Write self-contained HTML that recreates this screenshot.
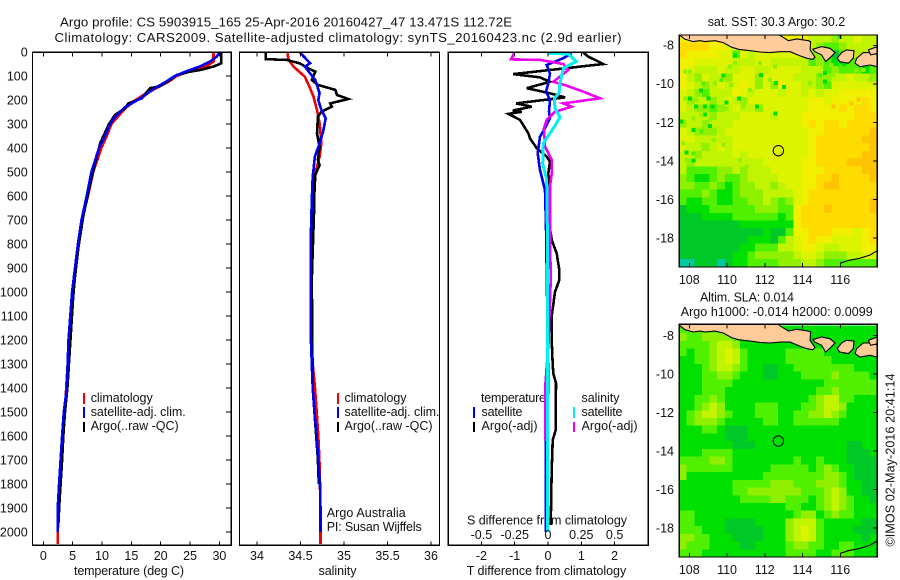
<!DOCTYPE html>
<html>
<head>
<meta charset="utf-8">
<title>Argo profile</title>
<style>
html,body{margin:0;padding:0;background:#fff;}
svg{display:block;}
text{font-family:"Liberation Sans",sans-serif;font-size:12.5px;fill:#111;}
.big{font-size:13.2px;}
</style>
</head>
<body>
<svg id="chart" xmlns="http://www.w3.org/2000/svg" width="900" height="580" viewBox="0 0 900 580">
<rect width="900" height="580" fill="#fff"/>
<text class="big" x="60" y="26.5" textLength="452" lengthAdjust="spacing">Argo profile: CS 5903915_165 25-Apr-2016 20160427_47 13.471S 112.72E</text>
<text class="big" x="54.5" y="42" textLength="567" lengthAdjust="spacing">Climatology: CARS2009. Satellite-adjusted climatology: synTS_20160423.nc (2.9d earlier)</text>
<text x="74" y="575" textLength="110" lengthAdjust="spacing">temperature (deg C)</text>
<text x="318.5" y="575" textLength="38" lengthAdjust="spacing">salinity</text>
<text x="466.7" y="575" textLength="159.5" lengthAdjust="spacing">T difference from climatology</text>
<text x="467" y="524.5" textLength="160" lengthAdjust="spacing">S difference from climatology</text>
<text x="326.7" y="517" textLength="79" lengthAdjust="spacing">Argo Australia</text>
<text x="326.7" y="531" textLength="95" lengthAdjust="spacing">PI: Susan Wijffels</text>
<text x="90.7" y="402" textLength="62" lengthAdjust="spacing">climatology</text>
<text x="90.7" y="416" textLength="95" lengthAdjust="spacing">satellite-adj. clim.</text>
<text x="90.7" y="430" textLength="88" lengthAdjust="spacing">Argo(..raw -QC)</text>
<text x="344.5" y="402" textLength="62" lengthAdjust="spacing">climatology</text>
<text x="344.5" y="416" textLength="95" lengthAdjust="spacing">satellite-adj. clim.</text>
<text x="344.5" y="430" textLength="88" lengthAdjust="spacing">Argo(..raw -QC)</text>
<text x="481" y="402" textLength="65" lengthAdjust="spacing">temperature</text>
<text x="481.5" y="416" textLength="41" lengthAdjust="spacing">satellite</text>
<text x="481.5" y="430" textLength="56" lengthAdjust="spacing">Argo(-adj)</text>
<text x="581.5" y="402" textLength="38" lengthAdjust="spacing">salinity</text>
<text x="581.5" y="416" textLength="41" lengthAdjust="spacing">satellite</text>
<text x="581.5" y="430" textLength="56" lengthAdjust="spacing">Argo(-adj)</text>
<text x="707.7" y="26" textLength="137.5" lengthAdjust="spacing">sat. SST: 30.3 Argo: 30.2</text>
<text x="700" y="301.5" textLength="94" lengthAdjust="spacing">Altim. SLA: 0.014</text>
<text x="680.7" y="316" textLength="192" lengthAdjust="spacing">Argo h1000: -0.014 h2000: 0.0099</text>
<text transform="translate(894.5,546.5) rotate(-90)" x="0" y="0" textLength="173" lengthAdjust="spacing">©IMOS 02-May-2016 20:41:14</text>
<g id="profiles"></g>
<g id="maps"></g>
</svg>
<script>
// ---- profile data (depth in m, values in native units) ----
const depthTicks = [0,100,200,300,400,500,600,700,800,900,1000,1100,1200,1300,1400,1500,1600,1700,1800,1900,2000];
const tempTicks = [0,5,10,15,20,25,30];
const salTicks = [34,34.5,35,35.5,36];
const salTickLabels = ["34","34.5","35","35.5","36"];
const diffTTicks = [-2,-1,0,1,2];
const diffSTicks = [-0.5,-0.25,0,0.25,0.5];
const diffSTickLabels = ["-0.5","-0.25","0","0.25","0.5"];
const lonTicks = [108,110,112,114,116];
const latTicks = [-8,-10,-12,-14,-16,-18];

const climTempDepth = [0,40,60,80,100,120,150,180,210,250,300,350,400,500,600,700,800,1000,1200,1400,1600,1800,2000,2050];
const climTempValue = [29,29,27.8,25,22.7,21.6,19.3,17,15.1,13.4,11.6,10.8,9.9,8.5,7.6,6.6,6,5,4.4,3.9,3.4,2.9,2.45,2.45];
const satTempDepth = [0,20,40,60,80,100,130,150,190,230,270,300,350,400,500,600,700,800,900,1000,1200,1400,1500,1600,1700,1800,1900,2000];
const satTempValue = [30.1,29.5,28.4,26.7,24.4,22.4,20.5,19,16.8,13.9,12.2,11.4,10.5,9.5,8.2,7.4,6.5,5.9,5.4,4.9,4.3,4,3.5,3.2,2.95,2.7,2.45,2.45];
const argoTempDepth = [0,47,61,75,82,96,117,142,151,193,214,235,262,304,380,464,547,686,811,936,1019,1400,1500,1600,1700,1800,1900,1960];
const argoTempValue = [30.3,30.3,29,26.7,25,22.7,21.6,19.9,18.2,16.8,14.5,13.9,12.2,11.1,9.7,8.8,8,6.8,6,5.4,5.1,4.1,3.7,3.4,3.2,2.95,2.7,2.6];

const climSalDepth = [0,30,61,103,151,186,242,297,380,436,505,590,700,1000,1100,1300,1400,1500,1600,1700,1800,2000,2050];
const climSalValue = [34.35,34.36,34.42,34.55,34.61,34.65,34.69,34.72,34.74,34.72,34.67,34.64,34.63,34.625,34.62,34.64,34.667,34.686,34.705,34.717,34.724,34.73,34.73];
const satSalDepth = [0,47,61,117,172,200,242,276,332,380,436,520,617,756,1005,1200,1400,1500,1600,1700,1800,1900,2000];
const satSalValue = [34.49,34.61,34.55,34.67,34.72,34.705,34.74,34.79,34.76,34.72,34.665,34.64,34.63,34.62,34.617,34.62,34.64,34.66,34.686,34.705,34.724,34.73,34.73];
const argoSalDepth = [0,30,33,47,68,82,117,137,158,179,196,214,228,249,269,339,394,450,471,512,617,672,894,950,1400,1500,1600,1700,1800];
const argoSalValue = [34.1,34.1,34.34,34.49,34.59,34.67,34.63,34.7,34.9,34.92,35.05,34.84,34.86,34.74,34.7,34.69,34.72,34.7,34.72,34.67,34.655,34.655,34.635,34.63,34.64,34.66,34.68,34.7,34.71];

const diffTSatDepth = [6,26,40,54,89,131,165,200,249,276,318,353,422,492,575,728,1000,1400,1500,1620,2000];
const diffTSatValue = [0.71,0.46,0.21,-0.04,0.06,0.01,-0.06,0.06,0.03,0.06,-0.09,-0.24,-0.31,-0.24,-0.09,-0.06,-0.03,0.01,-0.03,-0.07,-0.07];
const diffTArgoDepth = [3,19,50,64,92,106,124,151,172,189,214,228,244,249,258,283,339,360,401,436,457,506,561,714,783,839,908,950,1000,1100,1200,1300,1339,1380,1575,1617,1742,1971];
const diffTArgoValue = [1.06,1.21,1.66,0.76,-1.04,-0.24,0.06,-0.64,0.06,0.51,-0.96,-0.49,-1.06,-0.79,-1.19,-0.84,-0.59,-0.54,-0.34,-0.04,0.06,0.01,0.04,0.04,0.11,0.26,0.34,0.34,0.21,0.11,0.11,0.14,0.16,0.24,0.23,0.14,0.11,0.08];
const diffSSatDepth = [6,8,40,68,131,172,193,235,272,318,381,464,533,728,950,2000];
const diffSSatValue = [0,0.1525,0.21,0.115,0.09,0.0825,0.0475,0.0525,0.09,0.04,-0.035,-0.04,-0.01,-0.005,-0.0025,-0.005];
const diffSArgoDepth = [6,31,33,50,75,124,138,165,193,214,228,249,283,318,394,450,506,561,728,950,1200,1390,1620];
const diffSArgoValue = [-0.255,-0.2775,-0.06,0.115,0.1525,0.04,0.1275,0.265,0.39,0.115,0.1775,0.0525,-0.01,-0.03,-0.0225,0.0275,0.0275,0.015,0.015,0.02,0.005,-0.02,-0.02];

// ---- map data: colour-level per cell ----
const mapLevelColors = ["#00c8a0","#00c828","#00e000","#50f000","#90f000","#c0f400","#dcf400","#f0f000","#ffdc00","#ffc400"];
const sstLevels = [
[7,7,7,7,7,7,7,7,7,7,7,7,7,7,7,7,7,5,5,5,4,5,5,6,5,5],
[8,8,8,8,7,7,6,6,5,5,5,5,5,5,5,5,5,5,4,3,3,4,5,5,5,5],
[8,7,7,7,7,6,6,3,6,5,6,6,6,6,6,6,5,4,4,3,1,3,4,5,5,5],
[7,7,6,6,6,6,6,5,5,5,6,6,5,5,5,5,5,3,4,3,2,2,3,3,3,4],
[7,6,5,5,5,6,5,5,6,6,5,5,6,6,6,6,5,5,5,3,4,3,3,3,2,3],
[7,5,4,6,5,5,4,6,6,6,4,6,6,6,6,5,5,5,4,4,5,5,6,5,5,4],
[7,6,5,4,5,6,5,6,7,6,4,6,4,7,6,6,5,5,4,3,6,6,6,6,6,6],
[6,5,4,3,5,5,5,7,6,5,6,6,6,5,6,6,5,6,5,6,6,7,7,7,7,7],
[6,4,5,5,4,5,6,5,4,6,6,6,6,6,6,6,6,7,7,6,7,7,7,7,8,7],
[6,5,4,4,3,4,5,6,5,5,4,6,6,6,6,6,6,7,7,7,7,8,7,8,8,7],
[5,5,5,5,4,5,5,5,6,6,6,6,5,6,6,6,7,7,7,7,7,7,7,8,8,8],
[4,5,5,4,5,5,5,6,6,6,6,6,6,6,6,6,7,8,7,8,8,7,8,8,8,8],
[6,5,4,4,4,5,6,6,6,6,6,6,6,6,6,6,6,7,7,8,8,8,8,8,8,9],
[6,6,5,5,5,5,5,6,6,6,6,6,6,6,6,6,6,7,8,8,8,8,8,8,9,9],
[6,5,5,4,5,6,5,6,6,6,6,6,6,6,6,6,6,7,8,8,8,8,8,8,8,9],
[5,5,4,5,5,5,5,6,5,6,6,6,6,6,6,6,6,7,8,8,8,8,8,8,9,9],
[5,4,5,5,5,5,5,5,5,5,5,6,6,6,6,6,7,7,8,8,8,8,9,9,9,9],
[5,3,3,3,3,4,4,5,4,5,5,5,6,6,6,6,7,7,7,8,8,8,8,8,9,9],
[4,3,2,2,3,4,3,3,4,5,5,5,5,6,6,6,7,7,8,8,9,8,8,8,8,9],
[4,4,3,3,4,3,2,3,4,4,5,5,4,5,6,6,7,7,8,9,9,8,8,8,8,8],
[3,3,3,4,3,2,2,3,4,4,4,5,5,5,5,6,7,8,8,8,8,8,8,8,8,8],
[3,2,2,3,3,2,2,3,3,4,4,5,4,3,4,6,7,8,8,8,8,8,8,8,8,9],
[1,2,2,2,3,3,3,3,3,3,4,4,4,3,3,7,8,8,8,9,8,8,8,8,8,9],
[1,1,1,2,2,2,2,3,3,3,3,3,3,2,3,7,8,8,8,8,8,8,8,8,8,8],
[1,1,1,1,1,1,1,1,2,2,2,2,2,2,2,7,8,8,8,8,8,8,8,8,8,8],
[1,1,1,1,1,1,1,1,1,1,1,2,1,1,3,7,7,8,8,8,7,7,7,6,7,8],
[1,1,1,1,1,1,1,1,1,2,2,2,1,3,5,6,7,8,7,7,6,6,6,6,7,8],
[1,1,1,1,1,1,1,1,2,2,3,3,3,5,5,6,7,7,6,5,5,6,6,6,7,7],
[1,1,1,1,1,1,1,2,2,3,4,4,4,4,4,5,6,6,5,4,4,4,5,5,6,6],
[0,0,1,1,1,0,1,2,2,3,3,3,3,4,4,4,5,5,4,3,3,3,3,3,3,3]
];
const slaLevels = [
[3,3,3,3,3,3,3,2,2,2,2,2,2,2,2,2,2,2,2,2,2,2,2,2,2,2],
[4,3,3,4,4,4,4,3,2,2,2,2,2,2,2,2,2,2,2,2,2,2,2,2,2,2],
[3,3,3,3,4,5,5,4,2,2,2,2,2,2,2,2,2,2,2,2,2,2,2,2,2,2],
[3,2,3,3,4,5,6,5,3,2,2,2,2,2,3,3,3,3,3,2,2,2,2,2,2,2],
[2,2,3,3,4,5,6,5,3,2,2,2,2,2,3,3,3,3,3,3,2,2,2,2,2,2],
[2,2,2,3,4,5,5,4,3,2,2,1,1,2,2,3,3,3,3,3,3,3,3,2,2,2],
[2,2,2,3,3,4,4,3,2,2,2,1,1,2,2,2,3,3,3,3,4,3,3,3,3,2],
[2,2,2,3,3,3,3,2,2,2,2,2,2,2,2,2,2,2,2,3,3,3,3,3,3,3],
[2,2,2,3,3,3,2,2,2,2,2,2,2,2,2,2,2,2,3,3,4,3,3,3,3,3],
[2,2,3,3,4,3,2,2,2,2,2,2,2,2,2,2,2,3,4,5,5,3,3,2,2,2],
[2,2,3,4,5,4,2,2,2,2,3,3,3,2,2,2,3,3,4,5,5,4,2,2,2,2],
[2,3,4,5,5,4,3,2,2,2,3,3,3,2,2,3,3,4,4,5,4,3,2,2,2,2],
[2,3,4,4,4,3,2,2,2,2,2,3,3,2,2,3,3,3,3,3,3,2,2,2,2,2],
[2,2,2,3,3,2,1,1,1,2,2,2,2,2,2,2,2,2,2,2,2,2,2,2,2,2],
[2,2,2,2,2,2,1,1,1,2,2,2,2,2,2,2,2,2,2,2,2,2,2,2,2,2],
[2,2,2,2,2,2,2,1,1,1,2,2,2,2,2,2,2,2,2,2,2,2,1,1,2,2],
[2,2,2,3,3,3,3,2,2,2,2,2,2,2,2,2,2,2,2,2,2,2,1,1,1,2],
[3,3,3,3,4,4,3,2,2,2,2,2,2,2,2,3,2,2,3,2,2,2,1,1,1,1],
[4,3,3,3,3,3,3,2,2,2,2,2,3,3,3,3,3,2,3,4,3,2,2,1,1,1],
[4,2,2,2,2,2,2,2,2,2,2,3,3,3,3,3,3,3,3,4,4,3,2,1,1,1],
[2,2,2,2,2,2,2,3,3,3,3,3,4,4,4,3,3,3,4,4,4,3,2,2,1,1],
[2,2,2,2,2,2,2,3,3,4,4,4,4,4,4,4,3,3,3,4,5,4,2,2,1,1],
[2,2,2,2,2,2,2,2,3,3,3,3,4,4,3,3,3,2,3,4,5,4,3,2,2,1],
[2,2,2,2,2,2,2,2,2,2,2,2,2,2,3,3,2,2,3,4,5,4,3,2,2,2],
[3,3,2,2,2,2,2,2,2,2,2,2,2,2,2,3,4,4,2,3,4,3,3,2,2,2],
[3,3,2,2,2,2,1,1,1,1,2,2,2,2,4,5,5,5,3,2,2,2,2,2,1,1],
[3,3,3,2,2,2,1,1,1,1,1,2,2,2,4,5,6,5,3,2,2,2,2,1,1,1],
[4,4,3,3,2,2,2,1,1,1,1,2,2,2,4,5,6,5,3,2,2,2,2,2,1,2],
[4,3,3,3,2,2,2,2,1,1,2,2,2,2,3,4,4,3,3,2,2,3,3,2,2,2],
[3,3,3,2,2,2,2,2,2,2,2,2,2,2,3,3,3,3,2,2,3,3,3,2,2,2]
];
const speckLon = [108.62,108.04,109.01,108.83,109.22,108.35,109.98,110.63,111.6,112.58,113.02,112.59,111.8,109.8,110.42,108.83,109.1,108.21,107.59,107.86,108.21,115.19,115.19,115.99,
107.77,108.04,108.48,108.74,109.36,109.71,111.75,112.28,114.4,114.93,115.63,115.19,115.54,115.99,116.87,117.22,117.58,111.22,110.24,107.77,108.39,108.65,109.1,109.98,110.86,112.54,111.75,110.42,110.16,108.21,108.65,107.68,108.74,109.27,109.8,108.21,107.86,110.69,111.04,
116.6,116.96,115.63];
const speckLat = [-10.35,-10.77,-10.77,-11.18,-11.18,-11.18,-10.98,-10.77,-11.18,-11.53,-10.16,-9.96,-9.54,-9.56,-8.54,-11.58,-12.19,-12.39,-11.96,-13.57,-13.99,-9.45,-9.89,-7.55,
-9.37,-9.37,-9.8,-9.97,-9.97,-9.8,-9.89,-9.8,-9.97,-9.54,-9.54,-9.19,-9.02,-9.11,-9.31,-9.28,-9.8,-10.32,-10.06,-10.75,-10.84,-11.62,-11.88,-11.27,-11.18,-9.11,-8.93,-8.93,-9.11,-11.79,-12.48,-13.09,-13.17,-12.91,-13.17,-13.61,-13.95,-13.95,-14.3,
-11.01,-10.8,-11.18];
const speckLevel = [2,2,2,2,2,2,2,2,2,2,2,2,2,2,2,2,2,2,2,2,2,2,2,2,
4,4,4,3,4,3,4,4,4,3,4,3,4,3,4,4,4,4,4,4,4,4,4,4,4,4,4,4,4,4,3,4,4,4,4,3,4,4,4,
9,9,9];
const floatLon = [112.72];
const floatLat = [-13.471];

const javaLon = [107.4,107.47,107.77,108.21,108.57,108.83,109.36,109.8,110.24,110.6,111.22,111.75,112.28,112.81,113.34,113.87,114.22,114.54,114.66,114.4,114.43,114.31,113.69,113.25,112.77,112.77];
const javaLat = [-7.3,-7.46,-7.69,-7.81,-7.76,-7.81,-7.76,-7.86,-8.1,-8.21,-8.28,-8.35,-8.38,-8.33,-8.33,-8.55,-8.67,-8.73,-8.62,-8.24,-7.81,-7.76,-7.67,-7.76,-7.46,-7.3];
const baliLon = [114.54,115.01,115.46,115.72,115.49,115.23,115.01,114.66];
const baliLat = [-8.21,-8.07,-8.16,-8.38,-8.62,-8.85,-8.5,-8.33];
const lombokLon = [116.07,116.33,116.73,116.69,116.43,115.98,115.84];
const lombokLat = [-8.38,-8.24,-8.28,-8.67,-8.93,-8.85,-8.67];
const sumbawaLon = [116.87,117.22,117.75,117.96,117.96,117.58,117.05,116.78];
const sumbawaLat = [-8.67,-8.38,-8.38,-8.5,-9.11,-9.02,-9.11,-8.93];
const moyoLon = [117.49,117.96,117.96,117.61];
const moyoLat = [-8.24,-8.07,-8.42,-8.5];
const ausCoastLon = [115.99,116.43,117.05,117.58,117.96];
const ausCoastLat = [-19.31,-19.17,-19.05,-18.88,-18.66];

// ---- drawing helpers ----
const NS = "http://www.w3.org/2000/svg";
const profilesG = document.getElementById("profiles");
const mapsG = document.getElementById("maps");
function make(parent, tag, name, attrs) {
  const el = document.createElementNS(NS, tag);
  for (const k in attrs) el.setAttribute(k, attrs[k]);
  
  
  parent.appendChild(el);
  return el;
}
function label(parent, name, str, x, y, anchor) {
  const el = make(parent, "text", name, {x: x, y: y, "text-anchor": anchor});
  el.textContent = str;
  return el;
}

// ---- profile panels ----
const plotTop = 52.3, plotBottom = 545.3;
const yDepth = d => 52 + 0.24 * d;
const xTemp = t => 43.3 + 5.87 * t;
const xSal = s => 257 + 87 * (s - 34);
const xDiffT = t => 548 + 33.3 * t;
const xDiffS = s => 548 + 133.2 * s;

function line(parent, name, depth, value, xf, color, width) {
  const pts = depth.map((d, i) => xf(value[i]).toFixed(1) + "," + yDepth(d).toFixed(1)).join(" ");
  make(parent, "polyline", name, {points: pts, fill: "none", stroke: color, "stroke-width": width, "stroke-linejoin": "miter", "shape-rendering": "crispEdges"});
}
function frame(parent, name, x0, x1, y0, y1) {
  make(parent, "rect", name, {x: x0, y: y0, width: x1 - x0, height: y1 - y0, fill: "none", stroke: "#000", "stroke-width": 1.2, "shape-rendering": "crispEdges"});
}
function xTicks(parent, name, ticks, xf, y0, y1) {
  ticks.forEach(t => {
    const x = xf(t);
    make(parent, "line", name, {x1: x, x2: x, y1: y0, y2: y0 + 4, stroke: "#000", "stroke-width": 1, "shape-rendering": "crispEdges"});
    make(parent, "line", name, {x1: x, x2: x, y1: y1 - 4, y2: y1, stroke: "#000", "stroke-width": 1, "shape-rendering": "crispEdges"});
  });
}
function legendBar(parent, name, x, y0, y1, color) {
  make(parent, "line", name, {x1: x, x2: x, y1: y0, y2: y1, stroke: color, "stroke-width": 2.4, "shape-rendering": "crispEdges"});
}

// panel 1: temperature
const p1 = make(profilesG, "g", "temperature-panel", {});
line(p1, "climatology-temperature-line", climTempDepth, climTempValue, xTemp, "#f00000", 2.6);
line(p1, "argo-temperature-line", argoTempDepth, argoTempValue, xTemp, "#000", 2.6);
line(p1, "satellite-temperature-line", satTempDepth, satTempValue, xTemp, "#0000f0", 2.6);
frame(p1, "temperature-panel-frame", 32.5, 231.3, plotTop, plotBottom);
xTicks(p1, "temperature-tick", tempTicks, xTemp, plotTop, plotBottom);
tempTicks.forEach(t => label(p1, "temperature-tick-label", String(t), xTemp(t), 560, "middle"));
depthTicks.forEach(d => {
  make(p1, "line", "depth-tick", {x1: 226, x2: 231.3, y1: yDepth(d), y2: yDepth(d), stroke: "#000", "stroke-width": 1, "shape-rendering": "crispEdges"});
  label(p1, "depth-tick-label", String(d), 27.7, yDepth(d) + 4.4, "end");
});
legendBar(p1, "legend-swatch-climatology", 84, 393, 404, "#f00000");
legendBar(p1, "legend-swatch-satellite-adj", 84, 407, 418, "#0000f0");
legendBar(p1, "legend-swatch-argo", 84, 422, 432, "#000");

// panel 2: salinity
const p2 = make(profilesG, "g", "salinity-panel", {});
line(p2, "climatology-salinity-line", climSalDepth, climSalValue, xSal, "#f00000", 2.6);
line(p2, "argo-salinity-line", argoSalDepth, argoSalValue, xSal, "#000", 2.6);
line(p2, "satellite-salinity-line", satSalDepth, satSalValue, xSal, "#0000f0", 2.6);
frame(p2, "salinity-panel-frame", 239.5, 439.5, plotTop, plotBottom);
xTicks(p2, "salinity-tick", salTicks, xSal, plotTop, plotBottom);
salTicks.forEach((t, i) => label(p2, "salinity-tick-label", salTickLabels[i], xSal(t), 560, "middle"));
legendBar(p2, "legend-swatch-climatology-salinity", 338, 393, 404, "#f00000");
legendBar(p2, "legend-swatch-satellite-adj-salinity", 338, 407, 418, "#0000f0");
legendBar(p2, "legend-swatch-argo-salinity", 338, 422, 432, "#000");

// panel 3: differences
const p3 = make(profilesG, "g", "difference-panel", {});
line(p3, "t-argo-difference-line", diffTArgoDepth, diffTArgoValue, xDiffT, "#000", 2.6);
line(p3, "t-satellite-difference-line", diffTSatDepth, diffTSatValue, xDiffT, "#0000f0", 2.6);
line(p3, "s-argo-difference-line", diffSArgoDepth, diffSArgoValue, xDiffS, "#f000f0", 2.6);
line(p3, "s-satellite-difference-line", diffSSatDepth, diffSSatValue, xDiffS, "#00f0f0", 3);
frame(p3, "difference-panel-frame", 448.3, 648.3, plotTop, plotBottom);
xTicks(p3, "t-difference-tick", diffTTicks, xDiffT, plotTop, plotBottom);
diffTTicks.forEach(t => label(p3, "t-difference-tick-label", String(t), xDiffT(t), 560, "middle"));
diffSTicks.forEach((t, i) => label(p3, "s-difference-tick-label", diffSTickLabels[i], xDiffS(t), 539, "middle"));
legendBar(p3, "legend-swatch-t-satellite", 474, 407, 418, "#0000f0");
legendBar(p3, "legend-swatch-t-argo", 474, 422, 432, "#000");
legendBar(p3, "legend-swatch-s-satellite", 574, 407, 418, "#00f0f0");
legendBar(p3, "legend-swatch-s-argo", 574, 422, 432, "#f000f0");

// ---- maps ----
const xLon = lon => 689.3 + 18.87 * (lon - 108);
const cellLon = 10.49 / 26, cellLat = 12.04 / 30;
function polygon(parent, name, lons, lats, yLat, fill) {
  const pts = lons.map((lon, i) => xLon(lon).toFixed(1) + "," + yLat(lats[i]).toFixed(1)).join(" ");
  make(parent, "polygon", name, {points: pts, fill: fill, stroke: "#000", "stroke-width": 1.1});
}
function drawMap(key, top, bottom, yLat, levels, labelY) {
  const g = make(mapsG, "g", key + "-map", {});
  const clipId = key + "-clip";
  const clip = make(g, "clipPath", key + "-clip-region", {id: clipId});
  make(clip, "rect", key + "-clip-rect", {x: 679.3, y: top, width: 198, height: bottom - top});
  const body = make(g, "g", key + "-map-body", {"clip-path": "url(#" + clipId + ")"});
  levels.forEach((row, r) => row.forEach((v, c) => {
    const lon0 = 107.46 + c * cellLon, lat0 = -7.46 - r * cellLat;
    const x = xLon(lon0), y = yLat(lat0);
    make(body, "rect", key + "-cell", {x: x.toFixed(1), y: y.toFixed(1), width: (18.87 * cellLon + 0.6).toFixed(1), height: (19.27 * cellLat + 0.6).toFixed(1), fill: mapLevelColors[v], "shape-rendering": "crispEdges"});
  }));
  if (key === "sst") {
    speckLon.forEach((lon, i) => {
      make(body, "rect", "sst-speck", {x: xLon(lon) - 2, y: yLat(speckLat[i]) - 2, width: 4, height: 4, fill: mapLevelColors[speckLevel[i]], "shape-rendering": "crispEdges"});
    });
  }
  polygon(body, key + "-land-java", javaLon, javaLat, yLat, "#ffcc99");
  polygon(body, key + "-land-bali", baliLon, baliLat, yLat, "#ffcc99");
  polygon(body, key + "-land-lombok", lombokLon, lombokLat, yLat, "#ffcc99");
  polygon(body, key + "-land-sumbawa", sumbawaLon, sumbawaLat, yLat, "#ffcc99");
  polygon(body, key + "-land-moyo", moyoLon, moyoLat, yLat, "#ffcc99");
  const auPts = ausCoastLon.map((lon, i) => xLon(lon).toFixed(1) + "," + yLat(ausCoastLat[i]).toFixed(1)).join(" ");
  make(body, "polyline", key + "-australia-coast", {points: auPts, fill: "none", stroke: "#000", "stroke-width": 1.1});
  make(body, "circle", key + "-float-marker", {cx: xLon(floatLon[0]), cy: yLat(floatLat[0]), r: 5.2, fill: "none", stroke: "#000", "stroke-width": 1});
  frame(g, key + "-map-frame", 679.3, 877.3, top, bottom);
  lonTicks.forEach(l => {
    make(g, "line", key + "-lon-tick", {x1: xLon(l), x2: xLon(l), y1: top, y2: top + 4, stroke: "#000", "shape-rendering": "crispEdges"});
    make(g, "line", key + "-lon-tick", {x1: xLon(l), x2: xLon(l), y1: bottom - 4, y2: bottom, stroke: "#000", "shape-rendering": "crispEdges"});
    label(g, key + "-lon-tick-label", String(l), xLon(l), labelY, "middle");
  });
  latTicks.forEach(l => {
    make(g, "line", key + "-lat-tick", {x1: 873, x2: 877.3, y1: yLat(l), y2: yLat(l), stroke: "#000", "shape-rendering": "crispEdges"});
    label(g, key + "-lat-tick-label", String(l), 674, yLat(l) + 4.4, "end");
  });
}
drawMap("sst", 35, 267, lat => 45.3 + 19.27 * (-8 - lat), sstLevels, 284);
drawMap("sla", 324.3, 557, lat => 335.7 + 19.25 * (-8 - lat), slaLevels, 574);
</script>
</body>
</html>
